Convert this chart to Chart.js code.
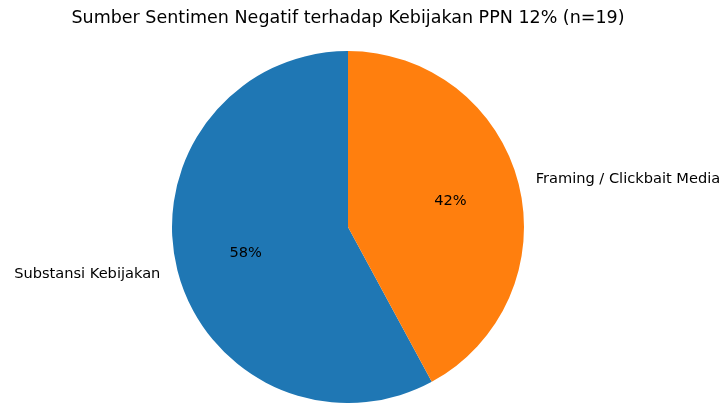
<!DOCTYPE html>
<html>
<head>
<meta charset="utf-8">
<script src="https://cdn.jsdelivr.net/npm/chart.js@4"></script>
<style>
  html, body { margin: 0; padding: 0; background: #fff; overflow: hidden; }
  #wrap { width: 721px; height: 403px; position: relative; }
</style>
</head>
<body>
<div id="wrap"><canvas id="chart"></canvas></div>
<script>
const chartTitle = 'Sumber Sentimen Negatif terhadap Kebijakan PPN 12% (n=19)';
const categories = ['Substansi Kebijakan', 'Framing / Clickbait Media'];
const counts = [11, 8];
const colors = ['#1f77b4', '#ff7f0e'];

const total = counts.reduce((a, b) => a + b, 0);

// text labels drawn like matplotlib: names at 1.1r, percents at 0.6r
const pieLabels = {
    id: 'pieLabels',
    afterDraw(chart) {
        const ctx = chart.ctx;
        const meta = chart.getDatasetMeta(0);
        ctx.save();
        ctx.fillStyle = '#000';
        ctx.textBaseline = 'middle';
        meta.data.forEach((arc, i) => {
            const mid = (arc.startAngle + arc.endAngle) / 2;
            const r = arc.outerRadius;
            const cx = Math.cos(mid), cy = Math.sin(mid);

            ctx.font = '14.6px "DejaVu Sans"';
            ctx.textAlign = cx >= 0 ? 'left' : 'right';
            ctx.fillText(categories[i], arc.x + 1.1 * r * cx, arc.y + 1.1 * r * cy);

            ctx.textAlign = 'center';
            const pct = Math.round(counts[i] / total * 100) + '%';
            ctx.fillText(pct, arc.x + 0.6 * r * cx, arc.y + 0.6 * r * cy);
        });

        ctx.font = '17.5px "DejaVu Sans"';
        ctx.textAlign = 'center';
        ctx.fillText(chartTitle, meta.data[0].x, 18.5);
        ctx.restore();
    }
};

const ctx = document.getElementById('chart');
new Chart(ctx, {
    type: 'pie',
    data: {
        labels: categories,
        datasets: [{
            data: counts,
            backgroundColor: colors,
            borderWidth: 0
        }]
    },
    options: {
        responsive: true,
        maintainAspectRatio: false,
        animation: false,
        // first wedge runs counter-clockwise from 12 o'clock in the original
        rotation: 360 * counts[1] / total,
        layout: {
            padding: { top: 51, bottom: 0, left: 172, right: 197 }
        },
        plugins: {
            legend: { display: false },
            tooltip: { enabled: false }
        }
    },
    plugins: [pieLabels]
});
</script>
</body>
</html>
